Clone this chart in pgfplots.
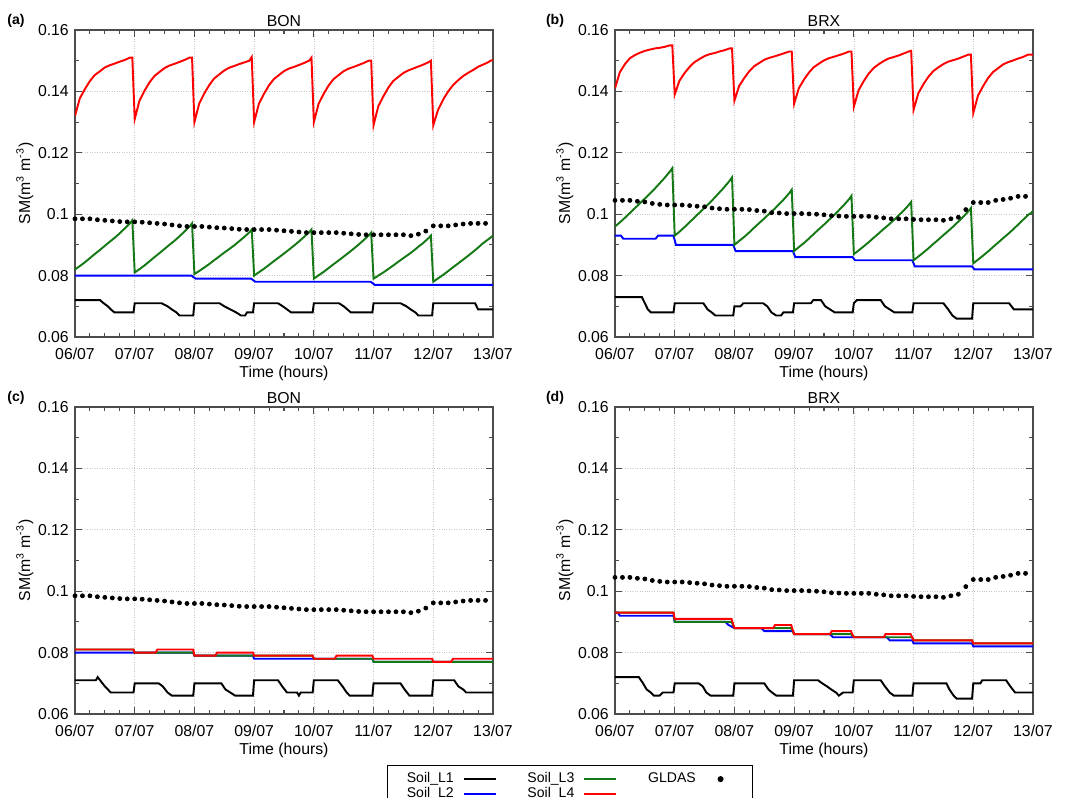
\documentclass[border=0pt]{standalone}
\usepackage{fontspec}
\setmainfont{Liberation Sans}
\usepackage{pgfplots}
\usepackage{pgfplotstable}
\pgfplotsset{compat=1.18}
\usepgfplotslibrary{groupplots}
\usetikzlibrary{calc}

\definecolor{slgreen}{RGB}{20,120,20}

% sawtooth series: x (days from 06/07), red/green for BON (a) and BRX (b)
\pgfplotstableread{
x ra ga rb gb
0.00 0.1320 0.0820 0.1410 0.0960
0.08 0.1377 0.0831 0.1462 0.0973
0.17 0.1409 0.0844 0.1490 0.0989
0.25 0.1434 0.0857 0.1508 0.1004
0.33 0.1453 0.0870 0.1518 0.1019
0.42 0.1466 0.0884 0.1526 0.1036
0.50 0.1478 0.0897 0.1532 0.1051
0.58 0.1485 0.0910 0.1536 0.1066
0.67 0.1491 0.0924 0.1540 0.1084
0.75 0.1497 0.0938 0.1542 0.1101
0.83 0.1502 0.0953 0.1545 0.1118
0.92 0.1510 0.0970 0.1550 0.1139
0.96 0.1510 0.0980 0.1550 0.1150
1.00 0.1310 0.0810 0.1390 0.0930
1.08 0.1370 0.0821 0.1435 0.0943
1.17 0.1404 0.0834 0.1461 0.0959
1.25 0.1430 0.0847 0.1480 0.0974
1.33 0.1450 0.0860 0.1495 0.0989
1.42 0.1464 0.0874 0.1506 0.1006
1.50 0.1476 0.0887 0.1515 0.1021
1.58 0.1484 0.0900 0.1521 0.1036
1.67 0.1490 0.0914 0.1525 0.1054
1.75 0.1496 0.0928 0.1530 0.1071
1.83 0.1502 0.0943 0.1534 0.1088
1.92 0.1510 0.0960 0.1540 0.1109
1.96 0.1510 0.0970 0.1540 0.1120
2.00 0.1300 0.0805 0.1370 0.0900
2.08 0.1360 0.0815 0.1418 0.0913
2.17 0.1395 0.0827 0.1445 0.0927
2.25 0.1421 0.0838 0.1466 0.0941
2.33 0.1442 0.0850 0.1482 0.0956
2.42 0.1456 0.0863 0.1493 0.0972
2.50 0.1468 0.0875 0.1503 0.0986
2.58 0.1477 0.0886 0.1509 0.1001
2.67 0.1483 0.0899 0.1514 0.1017
2.75 0.1489 0.0912 0.1519 0.1033
2.83 0.1494 0.0925 0.1524 0.1049
2.92 0.1500 0.0941 0.1530 0.1069
2.96 0.1512 0.0950 0.1530 0.1080
3.00 0.1300 0.0800 0.1360 0.0880
3.08 0.1360 0.0811 0.1411 0.0893
3.17 0.1394 0.0823 0.1440 0.0907
3.25 0.1420 0.0835 0.1462 0.0921
3.33 0.1440 0.0847 0.1479 0.0936
3.42 0.1454 0.0860 0.1491 0.0952
3.50 0.1466 0.0872 0.1501 0.0966
3.58 0.1474 0.0884 0.1508 0.0981
3.67 0.1480 0.0898 0.1513 0.0997
3.75 0.1486 0.0911 0.1518 0.1013
3.83 0.1492 0.0925 0.1523 0.1029
3.92 0.1500 0.0941 0.1530 0.1049
3.96 0.1510 0.0950 0.1530 0.1060
4.00 0.1300 0.0790 0.1350 0.0870
4.08 0.1360 0.0801 0.1404 0.0882
4.17 0.1394 0.0813 0.1435 0.0896
4.25 0.1420 0.0825 0.1458 0.0909
4.33 0.1440 0.0837 0.1476 0.0923
4.42 0.1454 0.0850 0.1489 0.0938
4.50 0.1466 0.0862 0.1499 0.0952
4.58 0.1474 0.0874 0.1507 0.0965
4.67 0.1480 0.0888 0.1512 0.0981
4.75 0.1486 0.0901 0.1517 0.0996
4.83 0.1492 0.0915 0.1523 0.1011
4.92 0.1500 0.0931 0.1530 0.1030
4.96 0.1500 0.0940 0.1532 0.1040
5.00 0.1290 0.0790 0.1340 0.0850
5.08 0.1352 0.0800 0.1394 0.0862
5.17 0.1386 0.0811 0.1425 0.0876
5.25 0.1413 0.0822 0.1448 0.0889
5.33 0.1434 0.0833 0.1466 0.0903
5.42 0.1448 0.0846 0.1479 0.0918
5.50 0.1460 0.0857 0.1489 0.0932
5.58 0.1468 0.0868 0.1497 0.0945
5.67 0.1475 0.0881 0.1502 0.0961
5.75 0.1481 0.0894 0.1507 0.0976
5.83 0.1487 0.0906 0.1513 0.0991
5.92 0.1495 0.0922 0.1520 0.1010
5.96 0.1500 0.0930 0.1520 0.1020
6.00 0.1290 0.0780 0.1330 0.0840
6.08 0.1340 0.0791 0.1387 0.0852
6.17 0.1375 0.0803 0.1419 0.0866
6.25 0.1400 0.0815 0.1444 0.0879
6.33 0.1420 0.0827 0.1463 0.0893
6.42 0.1437 0.0840 0.1476 0.0908
6.50 0.1450 0.0852 0.1488 0.0922
6.58 0.1460 0.0864 0.1495 0.0935
6.67 0.1470 0.0878 0.1501 0.0951
6.75 0.1480 0.0891 0.1507 0.0966
6.83 0.1487 0.0905 0.1512 0.0981
6.92 0.1495 0.0918 0.1520 0.0998
6.96 0.1500 0.0924 0.1520 0.1003
7.00 0.1502 0.0930 0.1520 0.1010
}\saw

% GLDAS, 3-hourly
\pgfplotstableread{
x bon brx
0.000 0.0985 0.1045
0.125 0.0985 0.1045
0.250 0.0985 0.1045
0.375 0.0982 0.1042
0.500 0.0980 0.1040
0.625 0.0978 0.1035
0.750 0.0976 0.1032
0.875 0.0975 0.1030
1.000 0.0975 0.1030
1.125 0.0974 0.1030
1.250 0.0972 0.1028
1.375 0.0970 0.1026
1.500 0.0968 0.1024
1.625 0.0965 0.1020
1.750 0.0962 0.1018
1.875 0.0960 0.1016
2.000 0.0960 0.1016
2.125 0.0960 0.1016
2.250 0.0958 0.1015
2.375 0.0956 0.1012
2.500 0.0955 0.1010
2.625 0.0953 0.1005
2.750 0.0951 0.1004
2.875 0.0950 0.1002
3.000 0.0950 0.1002
3.125 0.0950 0.1002
3.250 0.0950 0.1001
3.375 0.0948 0.1000
3.500 0.0946 0.0998
3.625 0.0944 0.0995
3.750 0.0942 0.0994
3.875 0.0940 0.0993
4.000 0.0940 0.0993
4.125 0.0940 0.0993
4.250 0.0940 0.0993
4.375 0.0940 0.0990
4.500 0.0938 0.0988
4.625 0.0936 0.0985
4.750 0.0934 0.0985
4.875 0.0933 0.0985
5.000 0.0933 0.0983
5.125 0.0933 0.0982
5.250 0.0933 0.0982
5.375 0.0933 0.0982
5.500 0.0933 0.0980
5.625 0.0930 0.0985
5.750 0.0935 0.0990
5.875 0.0945 0.1015
6.000 0.0962 0.1038
6.125 0.0962 0.1038
6.250 0.0962 0.1038
6.375 0.0965 0.1045
6.500 0.0968 0.1048
6.625 0.0970 0.1052
6.750 0.0970 0.1058
6.875 0.0970 0.1058
}\gldas

\pgfplotsset{
  smax/.style={
    width=8.36cm, height=6.14cm, scale only axis,
    xmin=0, xmax=7, ymin=0.06, ymax=0.16,
    xtick={0,...,7},
    xticklabels={06/07,07/07,08/07,09/07,10/07,11/07,12/07,13/07},
    ytick={0.06,0.08,0.1,0.12,0.14,0.16},
    yticklabels={0.06,0.08,0.1,0.12,0.14,0.16},
    /pgf/number format/assume math mode=true,
    minor x tick num=3, minor y tick num=1,
    tick align=inside, tick pos=both,
    major tick length=4pt, minor tick length=2pt,
    xmajorgrids, ymajorgrids,
    grid style={densely dotted, gray!45, line width=0.4pt},
    axis line style={black!70, line width=0.8pt},
    every tick/.style={black!70, line width=0.6pt},
    tick label style={font=\fontsize{9}{10}\selectfont},
    xticklabel style={yshift=-3pt},
    xlabel={Time (hours)},
    ylabel={SM(m\textsuperscript{3} m\textsuperscript{-3})},
    every axis x label/.style={at={(axis description cs:0.5,-0.117)}, anchor=center, font=\fontsize{9}{10}\selectfont},
    every axis y label/.style={at={(axis description cs:-0.12,0.5)}, rotate=90, anchor=center, font=\fontsize{9}{10}\selectfont},
    every axis title/.style={at={(axis description cs:0.5,1.03)}, anchor=center, font=\fontsize{9}{10}\selectfont},
  },
  l1/.style={black, line width=1.1pt},
  l2/.style={blue, line width=1.1pt},
  l3/.style={slgreen, line width=1.1pt},
  l4/.style={red, line width=1.1pt},
  gl/.style={only marks, mark=*, mark size=1.15pt, black},
}

\begin{document}
\begin{tikzpicture}
\begin{groupplot}[
  group style={group size=2 by 2, horizontal sep=2.44cm, vertical sep=1.4cm},
  smax,
]
% (a) BON
\nextgroupplot[title={BON}]
\addplot[l1] coordinates {(0,0.072)(0.42,0.072)(0.48,0.071)(0.55,0.070)(0.6,0.069)(0.66,0.068)(0.98,0.068)(1.0,0.071)(1.45,0.071)(1.55,0.070)(1.62,0.069)(1.7,0.068)(1.75,0.067)(1.98,0.067)(2.0,0.071)(2.42,0.071)(2.5,0.070)(2.6,0.069)(2.7,0.068)(2.78,0.067)(2.85,0.067)(2.88,0.068)(2.98,0.068)(3.0,0.071)(3.4,0.071)(3.48,0.070)(3.55,0.069)(3.62,0.068)(3.98,0.068)(4.0,0.071)(4.42,0.071)(4.5,0.070)(4.56,0.069)(4.62,0.068)(4.98,0.068)(5.0,0.071)(5.45,0.071)(5.55,0.070)(5.62,0.069)(5.7,0.068)(5.75,0.067)(5.98,0.067)(6.0,0.071)(6.7,0.071)(6.75,0.069)(7.0,0.069)};
\addplot[l2] coordinates {(0,0.080)(1.95,0.080)(2.02,0.079)(2.95,0.079)(3.02,0.078)(4.95,0.078)(5.02,0.077)(7,0.077)};
\addplot[l3] table[x=x, y=ga] {\saw};
\addplot[l4] table[x=x, y=ra] {\saw};
\addplot[gl] table[x=x, y=bon] {\gldas};

% (b) BRX
\nextgroupplot[title={BRX}]
\addplot[l1] coordinates {(0,0.073)(0.45,0.073)(0.5,0.071)(0.55,0.069)(0.6,0.068)(0.98,0.068)(1.0,0.071)(1.48,0.071)(1.55,0.069)(1.62,0.068)(1.68,0.067)(1.98,0.067)(2.0,0.070)(2.1,0.070)(2.15,0.071)(2.48,0.071)(2.55,0.070)(2.62,0.068)(2.7,0.067)(2.78,0.067)(2.82,0.068)(2.98,0.068)(3.0,0.071)(3.28,0.071)(3.32,0.072)(3.45,0.072)(3.52,0.070)(3.6,0.069)(3.68,0.068)(3.98,0.068)(4.0,0.071)(4.05,0.072)(4.45,0.072)(4.52,0.070)(4.6,0.069)(4.68,0.068)(4.98,0.068)(5.0,0.071)(5.5,0.071)(5.58,0.069)(5.65,0.067)(5.72,0.066)(5.98,0.066)(6.0,0.071)(6.6,0.071)(6.68,0.069)(7.0,0.069)};
\addplot[l2] coordinates {(0,0.093)(0.1,0.093)(0.14,0.092)(0.68,0.092)(0.72,0.093)(0.98,0.093)(1.02,0.090)(1.98,0.090)(2.02,0.088)(2.98,0.088)(3.02,0.086)(3.98,0.086)(4.02,0.085)(4.98,0.085)(5.02,0.083)(5.98,0.083)(6.02,0.082)(7,0.082)};
\addplot[l3] table[x=x, y=gb] {\saw};
\addplot[l4] table[x=x, y=rb] {\saw};
\addplot[gl] table[x=x, y=brx] {\gldas};

% (c) BON
\nextgroupplot[title={BON},
  legend style={at={(axis description cs:0.746,-0.166)}, anchor=north west,
    draw=black, line width=0.8pt, font=\fontsize{8}{8}\selectfont,
    legend columns=3, column sep=3pt, row sep=-3pt, inner xsep=9pt,
    /tikz/every even column/.append style={column sep=0.55cm}},
  legend plot pos=right,
  legend image code/.code={\draw[#1] (0cm,0cm) -- (0.64cm,0cm);},
]
\addplot[l1, forget plot] coordinates {(0,0.071)(0.35,0.071)(0.38,0.072)(0.42,0.071)(0.5,0.069)(0.55,0.068)(0.6,0.067)(0.98,0.067)(1.0,0.070)(1.4,0.070)(1.47,0.069)(1.55,0.067)(1.62,0.066)(1.98,0.066)(2.0,0.070)(2.45,0.070)(2.52,0.068)(2.6,0.067)(2.68,0.066)(2.98,0.066)(3.0,0.071)(3.4,0.071)(3.47,0.069)(3.55,0.067)(3.72,0.067)(3.75,0.066)(3.78,0.067)(3.98,0.067)(4.0,0.071)(4.4,0.071)(4.48,0.069)(4.55,0.067)(4.6,0.066)(4.98,0.066)(5.0,0.070)(5.45,0.070)(5.52,0.068)(5.6,0.066)(5.98,0.066)(6.0,0.071)(6.35,0.071)(6.42,0.069)(6.5,0.068)(6.55,0.067)(7.0,0.067)};
\addplot[l2, forget plot] coordinates {(0,0.080)(1.98,0.080)(2.0,0.079)(2.98,0.079)(3.0,0.078)(4.98,0.078)(5.0,0.077)(7,0.077)};
\addplot[l3, forget plot] coordinates {(0,0.081)(0.98,0.081)(1.0,0.080)(1.98,0.080)(2.0,0.079)(3.98,0.079)(4.0,0.078)(4.98,0.078)(5.0,0.077)(7,0.077)};
\addplot[l4, forget plot] coordinates {(0,0.081)(0.98,0.081)(1.0,0.080)(1.35,0.080)(1.38,0.081)(1.98,0.081)(2.0,0.079)(2.35,0.079)(2.38,0.080)(2.98,0.080)(3.0,0.079)(3.98,0.079)(4.0,0.078)(4.35,0.078)(4.38,0.079)(4.98,0.079)(5.0,0.078)(5.98,0.078)(6.0,0.077)(6.3,0.077)(6.33,0.078)(7,0.078)};
\addplot[gl, forget plot] table[x=x, y=bon] {\gldas};
\addlegendimage{l1}\addlegendentry{Soil\_L1}
\addlegendimage{l3}\addlegendentry{Soil\_L3}
\addlegendimage{legend image code/.code={\path[draw=none, fill=none] (0cm,0cm) rectangle (0.64cm,0.01cm); \fill[black] (0.32cm,0cm) circle (1.3pt);}}\addlegendentry{GLDAS}
\addlegendimage{l2}\addlegendentry{Soil\_L2}
\addlegendimage{l4}\addlegendentry{Soil\_L4}

% (d) BRX
\nextgroupplot[title={BRX}]
\addplot[l1] coordinates {(0,0.072)(0.4,0.072)(0.47,0.070)(0.53,0.068)(0.6,0.067)(0.65,0.066)(0.75,0.066)(0.8,0.067)(0.98,0.067)(1.0,0.070)(1.4,0.070)(1.47,0.069)(1.53,0.067)(1.6,0.066)(1.98,0.066)(2.0,0.070)(2.5,0.070)(2.57,0.068)(2.63,0.067)(2.7,0.066)(2.98,0.066)(3.0,0.071)(3.4,0.071)(3.47,0.070)(3.55,0.069)(3.62,0.068)(3.7,0.067)(3.75,0.066)(3.82,0.067)(3.98,0.067)(4.0,0.071)(4.45,0.071)(4.52,0.069)(4.6,0.067)(4.67,0.066)(4.98,0.066)(5.0,0.070)(5.55,0.070)(5.6,0.068)(5.67,0.066)(5.72,0.065)(5.98,0.065)(6.0,0.070)(6.12,0.070)(6.15,0.071)(6.55,0.071)(6.62,0.069)(6.7,0.067)(7,0.067)};
\addplot[l2] coordinates {(0,0.093)(0.05,0.093)(0.08,0.092)(0.98,0.092)(1.0,0.090)(1.85,0.090)(1.9,0.089)(2.0,0.088)(2.45,0.088)(2.5,0.087)(2.98,0.087)(3.0,0.086)(3.6,0.086)(3.65,0.085)(4.55,0.085)(4.6,0.084)(4.98,0.084)(5.0,0.083)(5.98,0.083)(6.0,0.082)(7,0.082)};
\addplot[l3] coordinates {(0,0.093)(0.98,0.093)(1.0,0.090)(1.95,0.090)(2.0,0.088)(2.95,0.088)(3.0,0.086)(3.95,0.086)(4.0,0.085)(4.98,0.085)(5.0,0.084)(5.98,0.084)(6.0,0.083)(7,0.083)};
\addplot[l4] coordinates {(0,0.093)(0.98,0.093)(1.0,0.091)(1.95,0.091)(2.0,0.088)(2.65,0.088)(2.68,0.089)(2.95,0.089)(3.0,0.086)(3.6,0.086)(3.63,0.087)(3.95,0.087)(4.0,0.085)(4.5,0.085)(4.53,0.086)(4.95,0.086)(5.0,0.084)(5.98,0.084)(6.0,0.083)(7,0.083)};
\addplot[gl] table[x=x, y=brx] {\gldas};
\end{groupplot}

\node[font=\bfseries\fontsize{8}{9}\selectfont] at ($(group c1r1.north west)+(-1.18cm,0.18cm)$) {(a)};
\node[font=\bfseries\fontsize{8}{9}\selectfont] at ($(group c2r1.north west)+(-1.2cm,0.18cm)$) {(b)};
\node[font=\bfseries\fontsize{8}{9}\selectfont] at ($(group c1r2.north west)+(-1.18cm,0.18cm)$) {(c)};
\node[font=\bfseries\fontsize{8}{9}\selectfont] at ($(group c2r2.north west)+(-1.2cm,0.18cm)$) {(d)};

\pgfresetboundingbox
\path[use as bounding box] ($(group c1r1.north west)+(-1.5cm,0.6cm)$) rectangle ($(group c1r1.north west)+(19.84cm,-15.34cm)$);
\end{tikzpicture}
\end{document}
